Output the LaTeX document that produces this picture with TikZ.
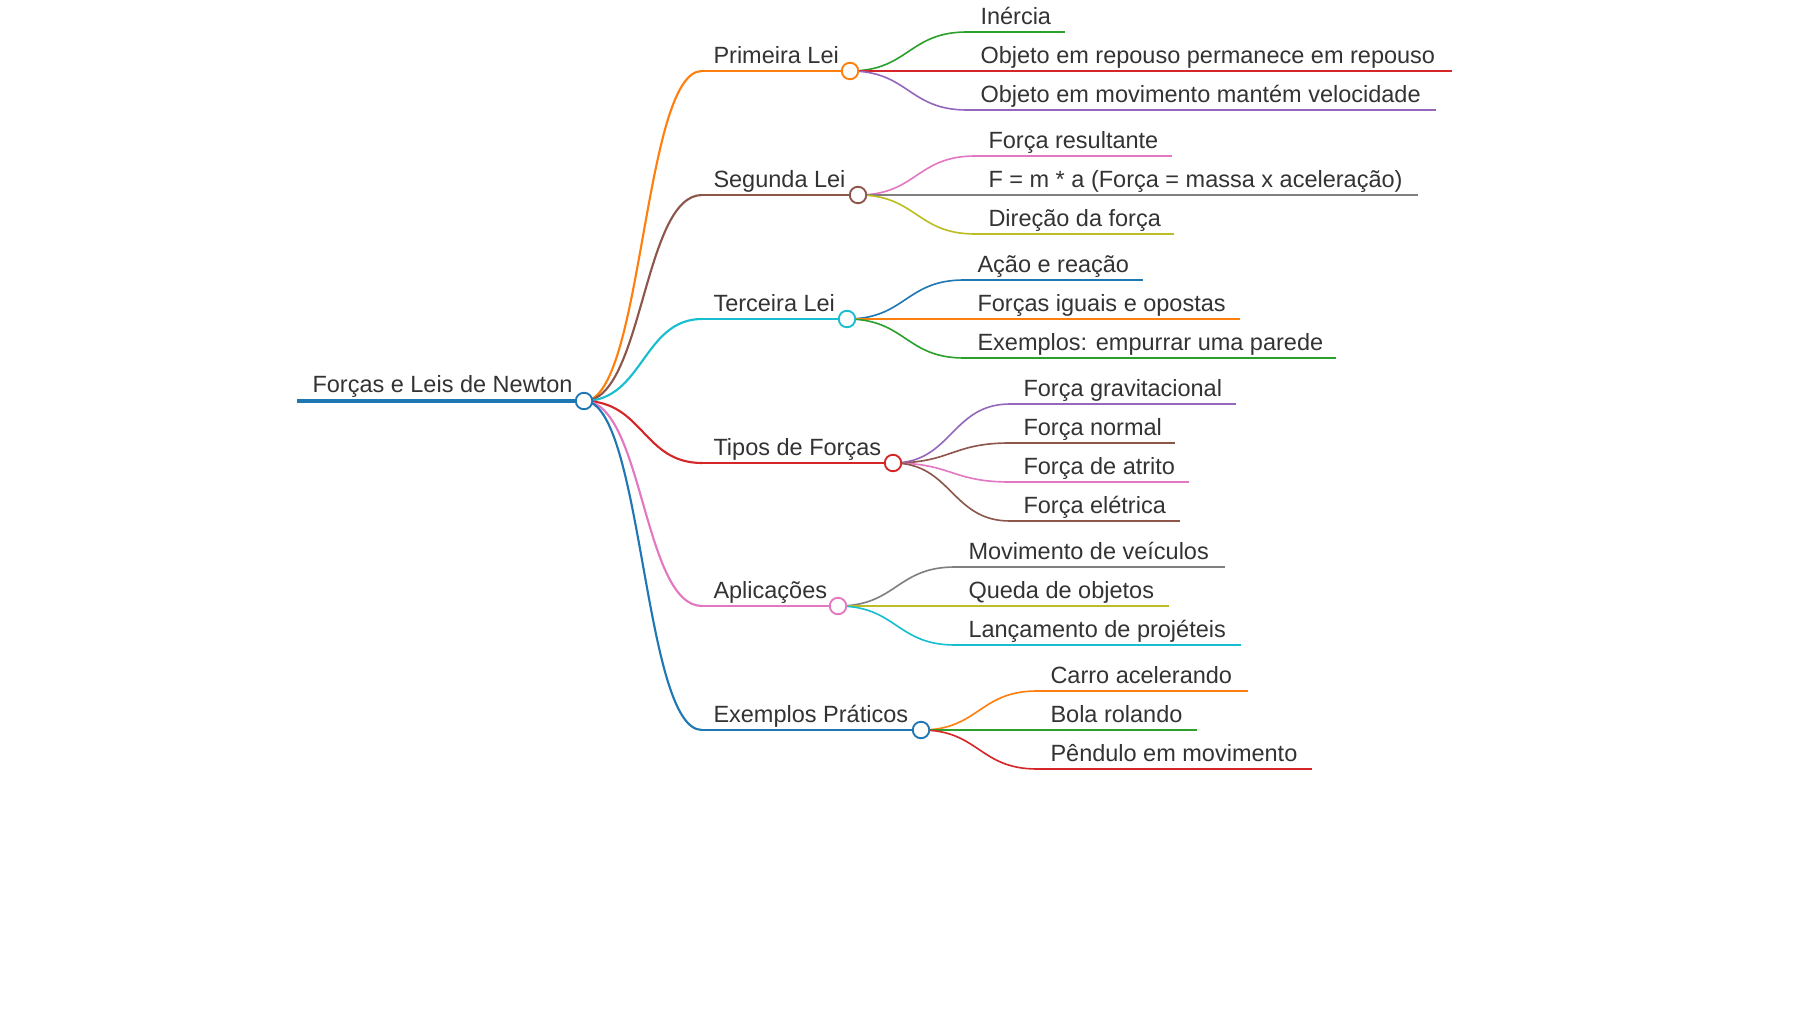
\documentclass[tikz,border=0pt]{standalone}
\usepackage{fontspec}
\setmainfont{Liberation Sans}
\usetikzlibrary{calc}
\definecolor{cBlue}{HTML}{1F77B4}
\definecolor{cOrange}{HTML}{FF7F0E}
\definecolor{cGreen}{HTML}{2CA02C}
\definecolor{cRed}{HTML}{D62728}
\definecolor{cPurple}{HTML}{9467BD}
\definecolor{cBrown}{HTML}{8C564B}
\definecolor{cPink}{HTML}{E377C2}
\definecolor{cGray}{HTML}{7F7F7F}
\definecolor{cOlive}{HTML}{BCBD22}
\definecolor{cCyan}{HTML}{17BECF}
\definecolor{txt}{HTML}{333333}
\tikzset{
  lbl/.style={anchor=base west, inner sep=0pt, text=txt, font=\fontsize{9.4}{11}\selectfont},
  dotnode/.style={circle, draw, fill=white, inner sep=0pt, minimum size=6.6pt, line width=0.75pt},
  w0/.style={line width=1.25pt},
  w1/.style={line width=0.85pt},
  w2/.style={line width=0.65pt}
}
\newcommand\mmlink[3]{\draw[#3] let \p1=(#1), \p2=(#2) in (#1) .. controls ({(\x1+\x2)/2},\y1) and ({(\x1+\x2)/2},\y2) .. (#2);}
% #1 name, #2 parent centre, #3 colour, #4 start x, #5 end x, #6 y, #7 text
\newcommand\mmleaf[7]{%
  \coordinate (#1s) at (#4,#6);
  \coordinate (#1e) at (#5,#6);
  \mmlink{#2}{#1s}{#3,w2}
  \draw[#3,w2] (#1s) -- (#1e);
  \node[lbl] (#1) at ({#4+13},{#6-7.5}) {#7};
}
% level-1: #1 name, #2 colour, #3 circle x, #4 y, #5 text
\newcommand\mmbranch[5]{%
  \coordinate (#1s) at (702,#4);
  \coordinate (#1) at (#3,#4);
  \mmlink{r}{#1s}{#2,w1}
  \draw[#2,w1] (#1s) -- (#1);
  \node[lbl] (#1t) at (713,{#4-7.5}) {#5};
}
\begin{document}
\begin{tikzpicture}[x=0.4pt,y=-0.4pt]
\useasboundingbox (0,0) rectangle (1800,1012);
% root
\coordinate (rs) at (297,401);
\coordinate (r) at (584,401);
\draw[cBlue,w0] (rs) -- (r);
\node[lbl] (rt) at (312,392.5) {Forças e Leis de Newton};
% level 1
\mmbranch{p1}{cOrange}{850}{71}{Primeira Lei}
\mmbranch{p2}{cBrown}{858}{195}{Segunda Lei}
\mmbranch{p3}{cCyan}{847}{319}{Terceira Lei}
\mmbranch{p4}{cRed}{893}{463}{Tipos de Forças}
\mmbranch{p5}{cPink}{838}{606}{Aplicações}
\mmbranch{p6}{cBlue}{921}{730}{Exemplos Práticos}
% level 2
\mmleaf{a1}{p1}{cGreen}{967}{1065}{32}{Inércia}
\mmleaf{a2}{p1}{cRed}{967}{1452}{71}{Objeto em repouso permanece em repouso}
\mmleaf{a3}{p1}{cPurple}{967}{1436}{110}{Objeto em movimento mantém velocidade}
\mmleaf{b1}{p2}{cPink}{975}{1172}{156}{Força resultante}
\mmleaf{b2}{p2}{cGray}{975}{1418}{195}{F = m * a (Força = massa x aceleração)}
\mmleaf{b3}{p2}{cOlive}{975}{1174}{234}{Direção da força}
\mmleaf{c1}{p3}{cBlue}{964}{1143}{280}{Ação e reação}
\mmleaf{c2}{p3}{cOrange}{964}{1240}{319}{Forças iguais e opostas}
\mmleaf{c3}{p3}{cGreen}{964}{1336}{358}{Exemplos: empurrar uma parede}
\mmleaf{d1}{p4}{cPurple}{1010}{1236}{404}{Força gravitacional}
\mmleaf{d2}{p4}{cBrown}{1010}{1175}{443}{Força normal}
\mmleaf{d3}{p4}{cPink}{1010}{1189}{482}{Força de atrito}
\mmleaf{d4}{p4}{cBrown}{1010}{1180}{521}{Força elétrica}
\mmleaf{e1}{p5}{cGray}{955}{1225}{567}{Movimento de veículos}
\mmleaf{e2}{p5}{cOlive}{955}{1169}{606}{Queda de objetos}
\mmleaf{e3}{p5}{cCyan}{955}{1241}{645}{Lançamento de projéteis}
\mmleaf{f1}{p6}{cOrange}{1037}{1248}{691}{Carro acelerando}
\mmleaf{f2}{p6}{cGreen}{1037}{1197}{730}{Bola rolando}
\mmleaf{f3}{p6}{cRed}{1037}{1312}{769}{Pêndulo em movimento}
% circles on top
\node[dotnode,draw=cBlue] (rc) at (r) {};
\node[dotnode,draw=cOrange] (p1c) at (p1) {};
\node[dotnode,draw=cBrown] (p2c) at (p2) {};
\node[dotnode,draw=cCyan] (p3c) at (p3) {};
\node[dotnode,draw=cRed] (p4c) at (p4) {};
\node[dotnode,draw=cPink] (p5c) at (p5) {};
\node[dotnode,draw=cBlue] (p6c) at (p6) {};
\end{tikzpicture}
\end{document}
